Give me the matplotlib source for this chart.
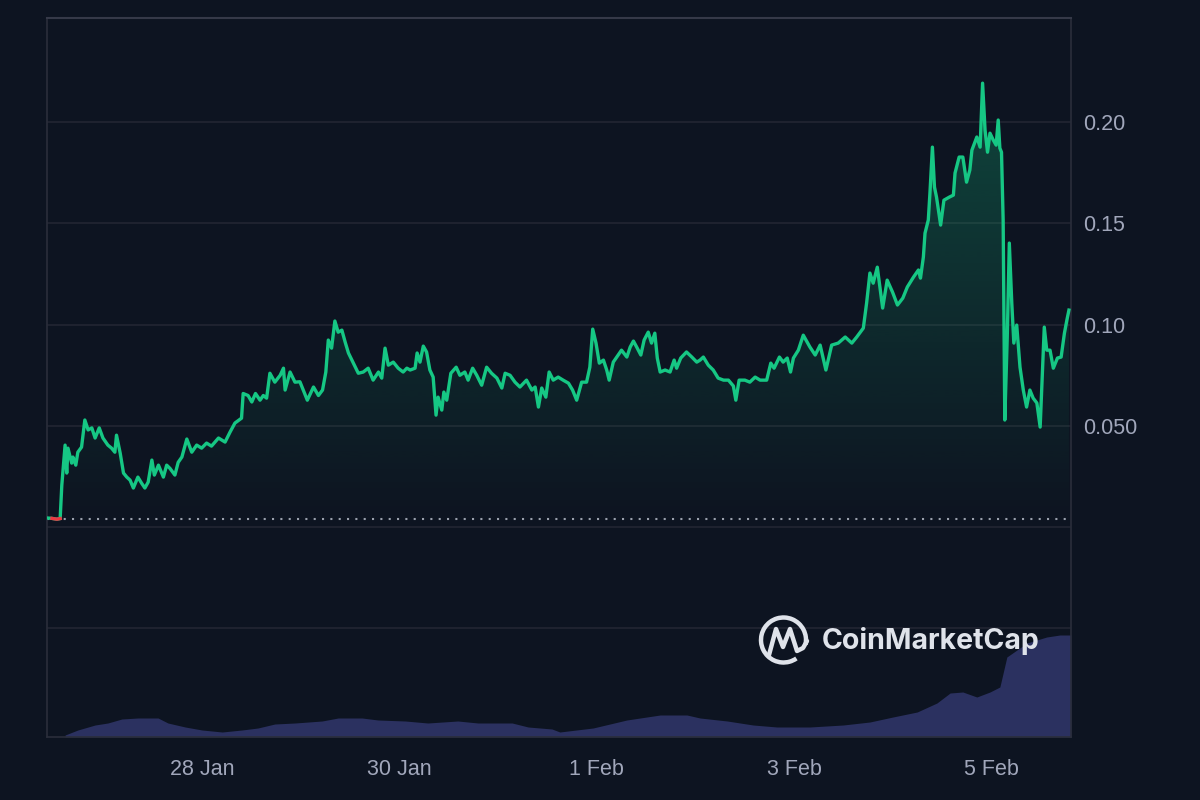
import matplotlib
matplotlib.use('Agg')
import matplotlib.pyplot as plt
import matplotlib.dates as mdates
from matplotlib.colors import to_rgb
from matplotlib.patches import Arc
import numpy as np
import pandas as pd

# price series (hours after the first sample, price in USD)
start = pd.Timestamp('2025-01-26 10:18')
hours = [
    0.0, 1.2, 2.4, 3.2, 3.6, 4.4, 4.8, 5.1, 6.0, 6.3, 7.0, 7.5, 8.4, 9.2, 10.0,
    10.9, 11.7, 12.7, 13.6, 14.8, 15.7, 16.5, 16.9, 17.8, 18.6, 19.4, 20.2, 21.0,
    22.1, 23.0, 23.8, 24.6, 25.5, 26.1, 27.1, 28.3, 29.1, 29.9, 31.1, 31.9, 32.8,
    34.0, 35.2, 36.4, 37.6, 38.8, 40.0, 41.7, 43.3, 44.5, 45.7, 47.3, 47.7, 48.9,
    49.8, 50.7, 51.8, 52.6, 53.4, 54.2, 55.4, 56.7, 57.5, 57.9, 59.1, 60.3, 61.5,
    62.3, 63.3, 64.8, 66.0, 67.0, 67.8, 68.4, 69.2, 70.0, 70.8, 71.7, 72.5, 73.3,
    74.5, 75.7, 76.9, 78.1, 79.3, 80.6, 81.4, 82.2, 83.0, 84.2, 85.4, 86.6, 87.5,
    88.3, 89.5, 90.0, 90.7, 91.5, 92.3, 93.1, 93.9, 94.6, 95.1, 96.0, 96.5, 97.2,
    98.2, 99.5, 100.4, 101.6, 102.4, 103.5, 104.5, 105.7, 106.9, 108.1, 109.4,
    110.6, 111.4, 112.6, 113.8, 115.0, 116.6, 117.9, 118.7, 119.5, 120.3, 121.3,
    122.1, 123.1, 124.3, 125.5, 126.8, 127.8, 128.8, 130.0, 131.2, 132.0, 132.7,
    133.5, 134.3, 135.3, 136.1, 136.7, 137.7, 138.9, 139.7, 141.0, 141.8, 142.6,
    143.4, 144.4, 145.2, 146.2, 147.0, 147.8, 148.4, 149.1, 150.3, 151.5, 152.5,
    153.1, 154.1, 155.5, 156.8, 158.0, 158.8, 159.6, 160.8, 162.0, 163.2, 164.5,
    165.7, 166.9, 167.5, 168.3, 169.7, 170.9, 172.2, 173.4, 175.0, 176.0, 176.8,
    178.1, 179.0, 180.0, 180.8, 181.5, 182.7, 183.9, 185.5, 186.8, 188.0, 189.4,
    190.8, 192.4, 194.1, 195.7, 196.9, 198.5, 199.3, 200.1, 200.9, 201.9, 203.2,
    204.3, 205.6, 206.8, 208.1, 209.2, 210.7, 211.9, 212.4, 213.1, 213.5, 214.3,
    214.7, 215.3, 215.8, 216.3, 217.3, 218.1, 219.4, 220.4, 220.8, 221.8, 222.7,
    223.6, 224.4, 224.9, 226.1, 226.9, 227.5, 228.1, 228.7, 229.3, 230.1, 230.8,
    231.3, 231.7, 232.1, 232.5, 232.7, 232.9, 233.5, 234.0, 234.6, 235.1, 235.8,
    236.6, 237.4, 238.2, 239.0, 239.8, 240.7, 241.5, 242.5, 243.1, 243.9, 244.7,
    245.7, 246.6, 247.4, 248.0, 248.5,
]
prices = [
    0.0045, 0.0043, 0.0039, 0.0042, 0.0207, 0.0405, 0.0267, 0.0390, 0.0316, 0.0346,
    0.0306, 0.0370, 0.0395, 0.0529, 0.0480, 0.0490, 0.0440, 0.0490, 0.0440, 0.0405,
    0.0390, 0.0370, 0.0454, 0.0365, 0.0267, 0.0247, 0.0232, 0.0193, 0.0247, 0.0217,
    0.0193, 0.0222, 0.0331, 0.0257, 0.0306, 0.0247, 0.0306, 0.0290, 0.0257, 0.0320,
    0.0346, 0.0435, 0.0370, 0.0405, 0.0390, 0.0415, 0.0400, 0.0440, 0.0420, 0.0469,
    0.0514, 0.0538, 0.0660, 0.0650, 0.0618, 0.0660, 0.0627, 0.0650, 0.0637, 0.0760,
    0.0716, 0.0750, 0.0785, 0.0677, 0.0766, 0.0716, 0.0718, 0.0677, 0.0627, 0.0692,
    0.0650, 0.0677, 0.0766, 0.0924, 0.0884, 0.1018, 0.0963, 0.0973, 0.0914, 0.0860,
    0.0810, 0.0760, 0.0766, 0.0785, 0.0726, 0.0766, 0.0736, 0.0884, 0.0800, 0.0815,
    0.0785, 0.0766, 0.0785, 0.0776, 0.0785, 0.0860, 0.0815, 0.0894, 0.0865, 0.0776,
    0.0741, 0.0553, 0.0642, 0.0578, 0.0667, 0.0627, 0.0760, 0.0790, 0.0750, 0.0766,
    0.0726, 0.0785, 0.0750, 0.0701, 0.0790, 0.0760, 0.0736, 0.0687, 0.0760, 0.0750,
    0.0716, 0.0692, 0.0726, 0.0677, 0.0692, 0.0593, 0.0687, 0.0642, 0.0766, 0.0726,
    0.0741, 0.0726, 0.0711, 0.0677, 0.0627, 0.0716, 0.0716, 0.0790, 0.0978, 0.0909,
    0.0810, 0.0825, 0.0776, 0.0726, 0.0815, 0.0850, 0.0874, 0.0840, 0.0889, 0.0919,
    0.0889, 0.0850, 0.0924, 0.0963, 0.0909, 0.0958, 0.0835, 0.0766, 0.0776, 0.0766,
    0.0825, 0.0785, 0.0835, 0.0865, 0.0840, 0.0815, 0.0825, 0.0840, 0.0800, 0.0776,
    0.0736, 0.0726, 0.0726, 0.0697, 0.0627, 0.0726, 0.0726, 0.0716, 0.0741, 0.0726,
    0.0726, 0.0810, 0.0785, 0.0840, 0.0815, 0.0835, 0.0766, 0.0835, 0.0874, 0.0948,
    0.0890, 0.0850, 0.0899, 0.0776, 0.0899, 0.0909, 0.0939, 0.0909, 0.0939, 0.0983,
    0.1107, 0.1255, 0.1205, 0.1284, 0.1082, 0.1220, 0.1161, 0.1097, 0.1131, 0.1186,
    0.1235, 0.1270, 0.1230, 0.1334, 0.1452, 0.1517, 0.1650, 0.1877, 0.1680, 0.1630,
    0.1492, 0.1615, 0.1630, 0.1640, 0.1749, 0.1828, 0.1828, 0.1704, 0.1764, 0.1862,
    0.1927, 0.1877, 0.2193, 0.1961, 0.1852, 0.1946, 0.1912, 0.1887, 0.2011, 0.1872,
    0.1852, 0.1517, 0.1023, 0.0529, 0.0939, 0.1403, 0.1107, 0.0909, 0.0998, 0.0790,
    0.0677, 0.0593, 0.0677, 0.0637, 0.0613, 0.0494, 0.0988, 0.0874, 0.0874, 0.0785,
    0.0835, 0.0840, 0.0958, 0.1023, 0.1072,
]
open_price = 0.0041

# volume (hours after the first sample, volume in millions)
vol_hours = [
    4.4, 7.5, 11.7, 14.8, 18.2, 22.1, 27.0, 29.4, 33.6, 37.7, 42.6, 47.4, 51.3,
    55.4, 60.3, 66.9, 70.8, 76.6, 80.5, 87.1, 92.6, 99.9, 104.8, 113.1, 117.0,
    122.8, 124.7, 132.8, 141.0, 149.1, 155.6, 158.8, 165.4, 171.7, 177.5, 185.5,
    193.6, 200.1, 205.7, 211.6, 216.4, 219.6, 222.7, 226.1, 229.3, 231.7, 233.4,
    238.3, 243.1, 246.3, 249.0,
]
volumes = [
    0.2, 0.7, 1.2, 1.4, 1.8, 1.9, 1.9, 1.4, 1.0, 0.7, 0.5, 0.7, 0.9, 1.3, 1.4,
    1.6, 1.9, 1.9, 1.7, 1.6, 1.4, 1.6, 1.4, 1.4, 1.0, 0.8, 0.5, 0.9, 1.7, 2.2,
    2.2, 1.9, 1.6, 1.2, 1.0, 1.0, 1.2, 1.5, 2.0, 2.5, 3.4, 4.4, 4.5, 4.0, 4.5,
    5.0, 8.0, 9.4, 10.0, 10.2, 10.2,
]

tick_days = ['2025-01-28', '2025-01-30', '2025-02-01', '2025-02-03', '2025-02-05']
tick_labels = ['28 Jan', '30 Jan', '1 Feb', '3 Feb', '5 Feb']
y_ticks = [0.05, 0.10, 0.15, 0.20]
y_labels = ['0.050', '0.10', '0.15', '0.20']
grid_levels = [-0.05, 0.0, 0.05, 0.10, 0.15, 0.20]

BG = '#0d1421'
GREEN = '#16c784'
RED = '#ea3943'
GRID = '#222632'
LABEL = '#a1a7bb'

plt.rcParams['font.family'] = ['Liberation Sans', 'DejaVu Sans']


def to_num(hrs):
    stamps = start + pd.to_timedelta(hrs, unit='h')
    return mdates.date2num(stamps.to_pydatetime())


t = to_num(hours)
p = np.array(prices)
vt = to_num(vol_hours)
x_end = to_num([249.0])[0]

fig = plt.figure(figsize=(12, 8), dpi=100, facecolor=BG)
ax = fig.add_axes([47 / 1200, 63 / 800, 1024 / 1200, 719 / 800])
ax_vol = ax.twinx()

# volume underneath
ax_vol.fill_between(vt, volumes, color='#2b3160', lw=0)
ax_vol.set_ylim(0, 71.9)
ax_vol.set_yticks([])
for s in ax_vol.spines.values():
    s.set_visible(False)
ax.set_zorder(ax_vol.get_zorder() + 1)
ax.patch.set_visible(False)
ax_vol.set_facecolor(BG)

for lvl in grid_levels:
    ax.axhline(lvl, color=GRID, lw=1.2, zorder=0)

# gradient under the price line
fill = ax.fill_between(t, p, open_price, color='none', lw=0)
rgba = np.zeros((256, 1, 4))
rgba[..., :3] = to_rgb(GREEN)
rgba[..., 3] = np.linspace(0.0, 0.28, 256)[:, None]
img = ax.imshow(rgba, extent=[t[0], t[-1], open_price, p.max()],
                origin='lower', aspect='auto', zorder=1, interpolation='bilinear')
img.set_clip_path(fill.get_paths()[0], transform=ax.transData)

ax.axhline(open_price, color='#9aa0ad', lw=1.5, ls=(0, (1, 3)), zorder=2)
ax.plot(t, p, color=GREEN, lw=2.4, zorder=3, solid_joinstyle='round')
ax.plot(t[1:4], p[1:4], color=RED, lw=2.4, zorder=4)

ax.set_xlim(t[0], x_end)
ax.set_ylim(-0.1037, 0.2515)

ax.yaxis.tick_right()
ax.set_yticks(y_ticks)
ax.set_yticklabels(y_labels)
ax.set_xticks(mdates.date2num(pd.to_datetime(tick_days).to_pydatetime()))
ax.set_xticklabels(tick_labels)
ax.tick_params(axis='y', length=0, pad=9, labelcolor=LABEL, labelsize=15.5)
ax.tick_params(axis='x', length=0, pad=16, labelcolor=LABEL, labelsize=15.5)

for side in ['left', 'right', 'bottom']:
    ax.spines[side].set_color('#2a2e3b')
    ax.spines[side].set_linewidth(1.2)
ax.spines['top'].set_color('#353948')
ax.spines['top'].set_linewidth(1.5)

# watermark, drawn in pixel coordinates
ov = fig.add_axes([0, 0, 1, 1], zorder=10)
ov.set_xlim(0, 1200)
ov.set_ylim(800, 0)
ov.axis('off')
mark = '#dfe3ea'
ov.add_patch(Arc((783.5, 640), 45, 45, theta1=55, theta2=372, color=mark, lw=3.2))
ov.plot([769, 776, 783, 790, 797, 803, 807], [655, 629, 647, 629, 651, 648, 641],
        color=mark, lw=3.2, solid_capstyle='round', solid_joinstyle='round')
ov.text(822, 641, 'CoinMarketCap', ha='left', va='center', color=mark,
        fontsize=20.5, fontfamily='Inter', fontweight='bold')

fig.savefig('out.png', dpi=100, facecolor=BG)
